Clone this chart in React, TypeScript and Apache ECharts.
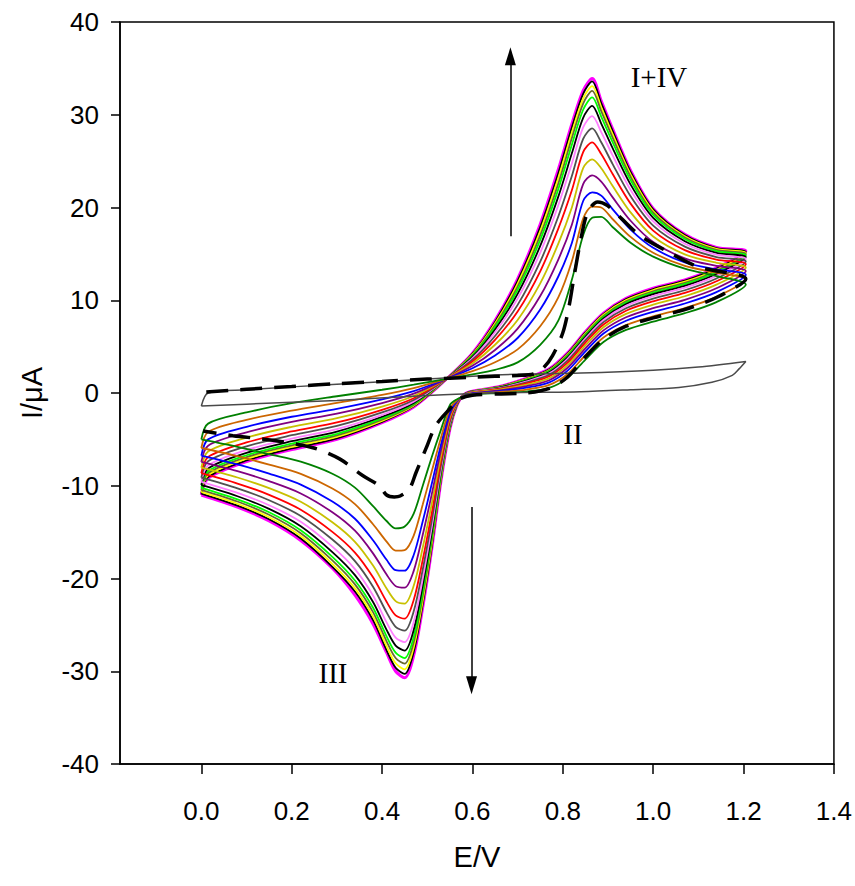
import React, { useEffect, useRef } from "react";
import * as echarts from "echarts";

// Potential grids (V) for the forward (anodic) and reverse (cathodic) scans
const FWD_E = [0.0, 0.015, 0.1, 0.2, 0.3, 0.4, 0.47, 0.54, 0.6, 0.65, 0.7, 0.75, 0.79, 0.82, 0.845, 0.865, 0.885, 0.91, 0.95, 1.0, 1.07, 1.14, 1.205];
const REV_E = [1.14, 1.07, 1.0, 0.94, 0.89, 0.85, 0.81, 0.77, 0.72, 0.66, 0.6, 0.58, 0.565, 0.55, 0.53, 0.51, 0.49, 0.47, 0.45, 0.43, 0.41, 0.38, 0.34, 0.29, 0.22, 0.15, 0.08, 0.0];

// Currents (uA), innermost (green) to outermost (magenta)
const GREEN_FWD = [-5.0, -3.3, -2.1, -1.1, -0.35, 0.35, 0.9, 1.5, 2.0, 2.5, 3.3, 5.2, 7.8, 12.2, 17.0, 18.9, 19.0, 17.9, 16.2, 14.7, 13.4, 12.6, 11.7];
const GREEN_REV = [9.8, 8.6, 7.7, 6.8, 5.5, 3.6, 1.6, 0.55, 0.15, 0.0, -0.15, -0.4, -0.7, -1.3, -4.0, -6.9, -10.0, -13.0, -14.4, -14.6, -13.8, -12.2, -10.2, -8.7, -7.4, -6.6, -5.8, -5.0];
const ORANGE_FWD = [-5.93, -4.2, -2.9, -1.9, -1.07, -0.2, 0.53, 1.48, 2.36, 3.32, 4.7, 7.2, 10.3, 14.2, 18.8, 20.1, 20.0, 18.76, 16.83, 15.12, 13.7, 12.97, 12.26];
const ORANGE_REV = [10.37, 9.16, 8.26, 7.33, 5.98, 4.07, 2.02, 0.87, 0.37, 0.11, -0.1, -0.37, -0.81, -1.7, -4.87, -8.43, -12.03, -15.37, -16.93, -16.99, -16.02, -14.15, -11.98, -10.3, -8.72, -7.72, -6.81, -5.93];
const BLUE_FWD = [-6.75, -5.0, -3.65, -2.56, -1.71, -0.69, 0.2, 1.47, 2.67, 4.05, 5.93, 9.0, 12.56, 16.18, 20.7, 21.63, 21.28, 19.83, 17.62, 15.65, 14.07, 13.33, 12.75];
const BLUE_REV = [10.88, 9.65, 8.75, 7.79, 6.41, 4.48, 2.39, 1.15, 0.57, 0.2, -0.05, -0.34, -0.9, -2.06, -5.64, -9.79, -13.83, -17.47, -19.16, -19.1, -17.98, -15.88, -13.56, -11.71, -9.88, -8.7, -7.7, -6.75];
const PURPLE_FWD = [-7.42, -5.68, -4.24, -3.12, -2.23, -1.08, -0.07, 1.46, 2.93, 4.64, 6.94, 10.45, 14.39, 18.15, 22.52, 23.46, 22.8, 21.12, 18.57, 16.28, 14.52, 13.7, 13.15];
const PURPLE_REV = [11.29, 10.05, 9.15, 8.17, 6.75, 4.81, 2.69, 1.38, 0.74, 0.28, -0.01, -0.32, -0.98, -2.35, -6.26, -10.9, -15.29, -19.18, -20.99, -20.82, -19.58, -17.29, -14.85, -12.86, -10.83, -9.51, -8.43, -7.42];
const OLIVEY_FWD = [-8.05, -6.3, -4.8, -3.65, -2.72, -1.46, -0.32, 1.45, 3.17, 5.2, 7.88, 11.82, 16.1, 20.0, 24.24, 25.19, 24.24, 22.34, 19.47, 16.88, 14.95, 14.04, 13.53];
const OLIVEY_REV = [11.68, 10.43, 9.53, 8.53, 7.08, 5.13, 2.97, 1.59, 0.89, 0.36, 0.03, -0.3, -1.06, -2.62, -6.85, -11.94, -16.67, -20.79, -22.7, -22.44, -21.08, -18.61, -16.05, -13.94, -11.73, -10.26, -9.11, -8.05];
const RED_FWD = [-8.65, -6.89, -5.33, -4.15, -3.18, -1.81, -0.56, 1.44, 3.4, 5.73, 8.78, 13.12, 17.73, 21.86, 25.97, 27.02, 25.76, 23.63, 20.42, 17.51, 15.4, 14.38, 13.89];
const RED_REV = [12.05, 10.79, 9.89, 8.87, 7.39, 5.43, 3.24, 1.8, 1.03, 0.43, 0.06, -0.28, -1.13, -2.88, -7.41, -12.93, -17.98, -22.32, -24.33, -23.98, -22.51, -19.87, -17.2, -14.97, -12.58, -10.98, -9.76, -8.65];
const DKGRAY_FWD = [-9.13, -7.37, -5.75, -4.55, -3.55, -2.1, -0.75, 1.43, 3.58, 6.15, 9.5, 14.16, 19.03, 23.39, 27.39, 28.53, 27.03, 24.71, 21.21, 18.04, 15.78, 14.66, 14.18];
const DKGRAY_REV = [12.35, 11.08, 10.18, 9.14, 7.64, 5.67, 3.46, 1.96, 1.15, 0.48, 0.09, -0.26, -1.18, -3.09, -7.86, -13.72, -19.03, -23.54, -25.63, -25.21, -23.65, -20.88, -18.12, -15.8, -13.26, -11.56, -10.28, -9.13];
const PINK_FWD = [-9.58, -7.81, -6.15, -4.92, -3.9, -2.36, -0.93, 1.42, 3.76, 6.55, 10.18, 15.13, 20.25, 24.75, 28.65, 29.85, 28.13, 25.64, 21.89, 18.5, 16.1, 14.92, 14.45];
const PINK_REV = [12.63, 11.35, 10.45, 9.4, 7.87, 5.89, 3.66, 2.12, 1.26, 0.53, 0.12, -0.25, -1.23, -3.29, -8.28, -14.46, -20.01, -24.69, -26.85, -26.37, -24.73, -21.83, -18.99, -16.57, -13.89, -12.1, -10.77, -9.58];
const BLACK1_FWD = [-9.92, -8.14, -6.45, -5.2, -4.16, -2.56, -1.07, 1.42, 3.89, 6.85, 10.68, 15.86, 21.17, 25.84, 29.67, 30.96, 29.05, 26.42, 22.47, 18.88, 16.37, 15.12, 14.65];
const BLACK1_REV = [12.83, 11.55, 10.65, 9.59, 8.04, 6.06, 3.81, 2.23, 1.34, 0.57, 0.14, -0.24, -1.27, -3.43, -8.59, -15.02, -20.74, -25.55, -27.77, -27.23, -25.53, -22.53, -19.63, -17.15, -14.37, -12.5, -11.13, -9.92];
const LIME_FWD = [-10.22, -8.43, -6.71, -5.45, -4.4, -2.74, -1.19, 1.41, 4.0, 7.11, 11.13, 16.51, 21.98, 26.78, 30.54, 31.88, 29.81, 27.07, 22.95, 19.2, 16.6, 15.29, 14.83];
const LIME_REV = [13.02, 11.73, 10.83, 9.76, 8.2, 6.21, 3.95, 2.33, 1.41, 0.61, 0.15, -0.23, -1.31, -3.56, -8.87, -15.51, -21.4, -26.31, -28.58, -28.0, -26.24, -23.16, -20.21, -17.66, -14.8, -12.86, -11.46, -10.22];
const OLIVE_FWD = [-10.44, -8.65, -6.91, -5.64, -4.57, -2.87, -1.28, 1.41, 4.09, 7.31, 11.46, 16.99, 22.58, 27.49, 31.2, 32.58, 30.4, 27.57, 23.31, 19.44, 16.77, 15.42, 14.97];
const OLIVE_REV = [13.16, 11.87, 10.97, 9.88, 8.31, 6.32, 4.05, 2.41, 1.47, 0.63, 0.17, -0.22, -1.33, -3.66, -9.08, -15.88, -21.88, -26.88, -29.18, -28.57, -26.77, -23.63, -20.63, -18.04, -15.11, -13.13, -11.7, -10.44];
const YELLOW_FWD = [-10.66, -8.87, -7.1, -5.82, -4.74, -3.0, -1.37, 1.41, 4.17, 7.5, 11.8, 17.47, 23.19, 28.08, 31.74, 33.09, 30.83, 27.93, 23.58, 19.62, 16.9, 15.53, 15.1];
const YELLOW_REV = [13.29, 12.0, 11.1, 10.01, 8.43, 6.43, 4.15, 2.49, 1.52, 0.66, 0.18, -0.21, -1.36, -3.75, -9.29, -16.25, -22.37, -27.44, -29.79, -29.14, -27.3, -24.09, -21.06, -18.42, -15.42, -13.4, -11.94, -10.66];
const BLACK2_FWD = [-10.85, -9.05, -7.27, -5.98, -4.88, -3.11, -1.44, 1.4, 4.24, 7.67, 12.08, 17.88, 23.69, 28.63, 32.26, 33.6, 31.25, 28.29, 23.84, 19.8, 17.03, 15.63, 15.21];
const BLACK2_REV = [13.41, 12.11, 11.21, 10.12, 8.52, 6.53, 4.23, 2.55, 1.56, 0.68, 0.19, -0.2, -1.38, -3.84, -9.46, -16.55, -22.77, -27.92, -30.29, -29.62, -27.74, -24.49, -21.41, -18.74, -15.69, -13.62, -12.14, -10.85];
const MAGENTA_FWD = [-11.0, -9.2, -7.4, -6.1, -5.0, -3.2, -1.5, 1.4, 4.3, 7.8, 12.3, 18.2, 24.1, 29.0, 32.6, 33.9, 31.5, 28.5, 24.0, 19.9, 17.1, 15.7, 15.3];
const MAGENTA_REV = [13.5, 12.2, 11.3, 10.2, 8.6, 6.6, 4.3, 2.6, 1.6, 0.7, 0.2, -0.2, -1.4, -3.9, -9.6, -16.8, -23.1, -28.3, -30.7, -30.0, -28.0, -24.9, -21.8, -18.9, -15.9, -13.8, -12.3, -11.0];

// Dashed black curve
const DASH_FWD_E = [0.011, 0.1, 0.2, 0.3, 0.4, 0.5, 0.6, 0.7, 0.735, 0.757, 0.777, 0.8, 0.814, 0.825, 0.84, 0.855, 0.877, 0.899, 0.93, 0.97, 1.03, 1.1, 1.205];
const DASH_FWD_I = [0.1, 0.4, 0.7, 1.0, 1.25, 1.5, 1.7, 1.9, 2.05, 2.7, 4.0, 6.5, 9.4, 12.6, 16.6, 19.5, 20.6, 20.2, 18.8, 17.0, 15.3, 13.6, 12.3];
const DASH_REV_E = [1.14, 1.07, 1.0, 0.94, 0.89, 0.85, 0.81, 0.77, 0.72, 0.66, 0.6, 0.571, 0.55, 0.519, 0.497, 0.475, 0.46, 0.44, 0.427, 0.41, 0.394, 0.357, 0.306, 0.247, 0.158, 0.07, 0.004];
const DASH_REV_I = [10.3, 9.0, 8.1, 7.2, 5.8, 3.9, 1.7, 0.5, 0.0, -0.1, -0.25, -0.65, -1.7, -3.5, -6.0, -8.6, -10.4, -11.1, -11.2, -11.0, -10.0, -8.9, -7.1, -5.9, -5.1, -4.6, -4.1];

// Thin gray (blank) curve
const GRAY_FWD_E = [0.0, 0.015, 0.1, 0.3, 0.5, 0.65, 0.84, 1.0, 1.1, 1.205];
const GRAY_FWD_I = [-1.4, 0.0, 0.35, 0.95, 1.5, 1.95, 2.15, 2.45, 2.8, 3.4];
const GRAY_REV_E = [1.19, 1.175, 1.13, 1.057, 0.95, 0.84, 0.65, 0.49, 0.3, 0.1, 0.0];
const GRAY_REV_I = [2.6, 1.9, 1.15, 0.6, 0.35, 0.14, 0.0, -0.3, -0.8, -1.2, -1.4];

// Axis ticks
const X_TICKS = [0.0, 0.2, 0.4, 0.6, 0.8, 1.0, 1.2, 1.4];

// Arrows (data coordinates: start, end)
const ARROW_UP = [[0.684, 16.9], [0.684, 36.3]];
const ARROW_DOWN = [[0.598, -12.3], [0.598, -31.5]];

const CURVES = [
  { color: "#ff00ff", fwd: MAGENTA_FWD, rev: MAGENTA_REV, width: 3 },
  { color: "#000000", fwd: BLACK2_FWD, rev: BLACK2_REV, width: 1.8 },
  { color: "#ffff00", fwd: YELLOW_FWD, rev: YELLOW_REV, width: 1.8 },
  { color: "#6b6b2f", fwd: OLIVE_FWD, rev: OLIVE_REV, width: 1.8 },
  { color: "#00ff00", fwd: LIME_FWD, rev: LIME_REV, width: 1.8 },
  { color: "#000000", fwd: BLACK1_FWD, rev: BLACK1_REV, width: 1.8 },
  { color: "#ff80ff", fwd: PINK_FWD, rev: PINK_REV, width: 1.8 },
  { color: "#505050", fwd: DKGRAY_FWD, rev: DKGRAY_REV, width: 1.8 },
  { color: "#ff0000", fwd: RED_FWD, rev: RED_REV, width: 1.8 },
  { color: "#c8c000", fwd: OLIVEY_FWD, rev: OLIVEY_REV, width: 1.8 },
  { color: "#800080", fwd: PURPLE_FWD, rev: PURPLE_REV, width: 1.8 },
  { color: "#0000ff", fwd: BLUE_FWD, rev: BLUE_REV, width: 1.8 },
  { color: "#cc6600", fwd: ORANGE_FWD, rev: ORANGE_REV, width: 1.8 },
  { color: "#008000", fwd: GREEN_FWD, rev: GREEN_REV, width: 1.8 },
];

const zip = (xs: number[], ys: number[]) => xs.map((x, k) => [x, ys[k]]);

export default function App() {
  const ref = useRef<HTMLDivElement>(null);
  useEffect(() => {
    if (!ref.current) return;
    const chart = echarts.init(ref.current, null, { renderer: "svg" });
    const series: any[] = CURVES.map((c) => ({
      type: "line",
      data: zip(FWD_E, c.fwd).concat(zip(REV_E, c.rev)),
      showSymbol: false,
      symbol: "none",
      smooth: 0.3,
      silent: true,
      z: 2,
      lineStyle: { color: c.color, width: c.width },
    }));
    series.push({
      type: "line",
      data: zip(GRAY_FWD_E, GRAY_FWD_I).concat(zip(GRAY_REV_E, GRAY_REV_I)),
      showSymbol: false,
      symbol: "none",
      smooth: 0.3,
      silent: true,
      z: 3,
      lineStyle: { color: "#4a4a4a", width: 1.5 },
    });
    series.push({
      type: "line",
      data: zip(DASH_FWD_E, DASH_FWD_I).concat(zip(DASH_REV_E, DASH_REV_I)),
      showSymbol: false,
      symbol: "none",
      smooth: 0.3,
      silent: true,
      z: 4,
      lineStyle: { color: "#000000", width: 3.5, type: [22, 12] },
      markLine: {
        silent: true,
        symbol: ["none", "triangle"],
        symbolSize: [11, 18],
        label: { show: false },
        lineStyle: { color: "#000", width: 1.5, type: "solid" },
        data: [
          [{ coord: ARROW_UP[0] }, { coord: ARROW_UP[1] }],
          [{ coord: ARROW_DOWN[0] }, { coord: ARROW_DOWN[1] }],
        ],
      },
    });

    const serif = '"Liberation Serif", "Times New Roman", serif';
    chart.setOption({
      animation: false,
      backgroundColor: "#ffffff",
      grid: {
        left: 120,
        right: 20,
        top: 22,
        bottom: 122,
        show: true,
        borderColor: "#000",
        borderWidth: 1.5,
        containLabel: false,
      },
      xAxis: {
        type: "value",
        min: -0.18,
        max: 1.4,
        name: "E/V",
        nameLocation: "middle",
        nameGap: 78,
        nameTextStyle: { fontSize: 29, fontFamily: "Liberation Sans", color: "#000" },
        splitLine: { show: false },
        axisLine: { onZero: false, lineStyle: { color: "#000", width: 1.5 } },
        axisTick: { customValues: X_TICKS, length: 10, lineStyle: { color: "#000", width: 1.5 } },
        axisLabel: {
          customValues: X_TICKS,
          margin: 34,
          fontSize: 26,
          fontFamily: "Liberation Sans",
          color: "#000",
          formatter: (v: number) => v.toFixed(1),
        },
      },
      yAxis: {
        type: "value",
        min: -40,
        max: 40,
        interval: 10,
        name: "I/\u03bcA",
        nameLocation: "middle",
        nameGap: 74,
        nameRotate: 90,
        nameTextStyle: { fontSize: 29, fontFamily: "Liberation Sans", color: "#000" },
        splitLine: { show: false },
        axisLine: { onZero: false, lineStyle: { color: "#000", width: 1.5 } },
        axisTick: { length: 9, lineStyle: { color: "#000", width: 1.5 } },
        axisLabel: { margin: 21, fontSize: 26, fontFamily: "Liberation Sans", color: "#000" },
      },
      graphic: [
        { type: "text", x: 659, y: 77, style: { text: "I+IV", font: `29px ${serif}`, fill: "#000", align: "center", verticalAlign: "middle" } },
        { type: "text", x: 573, y: 434, style: { text: "II", font: `29px ${serif}`, fill: "#000", align: "center", verticalAlign: "middle" } },
        { type: "text", x: 333, y: 673, style: { text: "III", font: `29px ${serif}`, fill: "#000", align: "center", verticalAlign: "middle" } },
      ],
      series,
    });
    return () => chart.dispose();
  }, []);
  return <div ref={ref} style={{ position: "absolute", left: 0, top: 0, width: 855, height: 886 }} />;
}
